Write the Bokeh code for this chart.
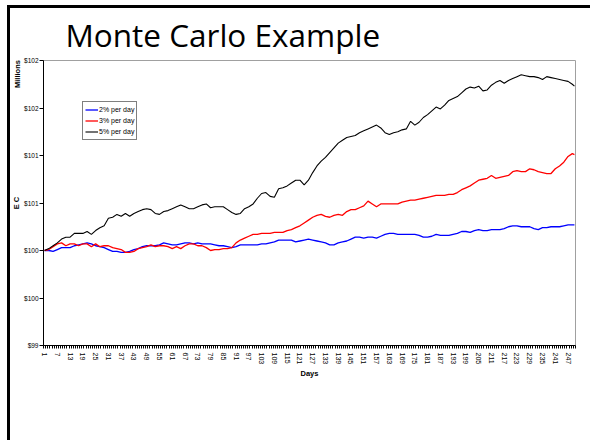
import math
from bokeh.plotting import figure
from bokeh.models import Range1d, FixedTicker, Legend, LegendItem, LinearAxis
from bokeh.embed import file_html
from bokeh.resources import INLINE

# ---- data (EC in $ millions, every other day) ----
days = list(range(1, 250, 2)) + [250]

ec_2pct = [
    100.00, 100.00, 99.99, 100.01, 100.03, 100.03, 100.03, 100.05, 100.06, 100.07,
    100.08, 100.07, 100.05, 100.04, 100.03, 100.01, 99.99, 99.99, 99.98, 99.98,
    99.99, 100.01, 100.02, 100.04, 100.05, 100.05, 100.05, 100.06, 100.08, 100.07,
    100.06, 100.06, 100.07, 100.08, 100.08, 100.07, 100.08, 100.07, 100.07, 100.07,
    100.06, 100.05, 100.05, 100.04, 100.03, 100.04, 100.06, 100.06, 100.06, 100.06,
    100.06, 100.07, 100.07, 100.08, 100.09, 100.11, 100.11, 100.11, 100.11, 100.09,
    100.10, 100.11, 100.12, 100.11, 100.10, 100.09, 100.08, 100.06, 100.06, 100.08,
    100.09, 100.10, 100.12, 100.14, 100.14, 100.13, 100.14, 100.14, 100.13, 100.15,
    100.17, 100.18, 100.18, 100.17, 100.17, 100.17, 100.17, 100.17, 100.16, 100.14,
    100.14, 100.15, 100.17, 100.16, 100.16, 100.16, 100.17, 100.18, 100.20, 100.20,
    100.19, 100.21, 100.22, 100.21, 100.21, 100.22, 100.22, 100.22, 100.23, 100.25,
    100.26, 100.26, 100.25, 100.25, 100.25, 100.23, 100.22, 100.24, 100.24, 100.25,
    100.25, 100.25, 100.26, 100.27, 100.27, 100.27,
]

ec_3pct = [
    100.00, 100.01, 100.04, 100.07, 100.08, 100.05, 100.07, 100.07, 100.05, 100.07,
    100.07, 100.04, 100.07, 100.04, 100.05, 100.05, 100.03, 100.02, 100.01, 99.98,
    99.98, 99.99, 100.02, 100.03, 100.04, 100.06, 100.04, 100.05, 100.05, 100.04,
    100.02, 100.04, 100.02, 100.05, 100.07, 100.07, 100.05, 100.05, 100.03, 100.00,
    100.01, 100.01, 100.02, 100.02, 100.03, 100.08, 100.11, 100.13, 100.15, 100.17,
    100.17, 100.18, 100.18, 100.18, 100.19, 100.19, 100.19, 100.21, 100.22, 100.24,
    100.26, 100.29, 100.32, 100.35, 100.37, 100.38, 100.36, 100.35, 100.37, 100.38,
    100.37, 100.41, 100.43, 100.43, 100.45, 100.47, 100.52, 100.49, 100.46, 100.49,
    100.49, 100.49, 100.49, 100.49, 100.51, 100.52, 100.53, 100.53, 100.54, 100.55,
    100.56, 100.57, 100.58, 100.58, 100.58, 100.59, 100.59, 100.61, 100.64, 100.66,
    100.68, 100.71, 100.74, 100.75, 100.76, 100.79, 100.76, 100.77, 100.78, 100.79,
    100.83, 100.84, 100.83, 100.83, 100.86, 100.85, 100.83, 100.82, 100.81, 100.81,
    100.86, 100.89, 100.93, 100.99, 101.02, 101.01,
]

ec_5pct = [
    100.00, 100.02, 100.05, 100.08, 100.12, 100.14, 100.14, 100.18, 100.18, 100.18,
    100.20, 100.17, 100.21, 100.24, 100.26, 100.34, 100.35, 100.38, 100.36, 100.39,
    100.36, 100.39, 100.41, 100.43, 100.44, 100.43, 100.39, 100.38, 100.41, 100.42,
    100.44, 100.46, 100.48, 100.46, 100.44, 100.44, 100.46, 100.48, 100.49, 100.45,
    100.46, 100.46, 100.46, 100.43, 100.40, 100.38, 100.39, 100.44, 100.46, 100.49,
    100.55, 100.60, 100.61, 100.57, 100.56, 100.65, 100.66, 100.68, 100.71, 100.74,
    100.74, 100.69, 100.74, 100.82, 100.89, 100.94, 100.98, 101.03, 101.08, 101.13,
    101.16, 101.19, 101.20, 101.21, 101.24, 101.26, 101.28, 101.30, 101.32, 101.29,
    101.24, 101.22, 101.24, 101.25, 101.27, 101.28, 101.36, 101.32, 101.35, 101.40,
    101.43, 101.47, 101.51, 101.49, 101.53, 101.58, 101.60, 101.62, 101.66, 101.70,
    101.72, 101.71, 101.73, 101.68, 101.69, 101.74, 101.77, 101.79, 101.76, 101.79,
    101.81, 101.83, 101.85, 101.84, 101.83, 101.83, 101.82, 101.80, 101.83, 101.82,
    101.81, 101.80, 101.79, 101.78, 101.75, 101.73,
]

series_names = ["2% per day", "3% per day", "5% per day"]
series_colors = ["#0000FF", "#FF0000", "#000000"]

y_ticks = [99.0, 99.5, 100.0, 100.5, 101.0, 101.5, 102.0]
y_tick_labels = ["$99", "$100", "$100", "$101", "$101", "$102", "$102"]
x_label_days = list(range(1, 250, 6))
x_boundaries = [d + 0.5 for d in range(0, 251)]

# ---- figure ----
p = figure(width=590, height=440, output_backend="svg", toolbar_location=None, tools="",
           x_range=Range1d(0.5, 250.5), y_range=Range1d(99.0, 102.0),
           min_border_left=43, min_border_right=15, min_border_top=60, min_border_bottom=95)
p.toolbar.logo = None
# slide frame (top and left edges) painted behind a transparent canvas border
p.styles = {"background": ("linear-gradient(#000, #000) 7px 5px / 3px 440px no-repeat, "
                           "linear-gradient(#000, #000) 7px 5px / 585px 3px no-repeat, #fff")}
p.background_fill_color = "white"
p.border_fill_alpha = 0
p.outline_line_color = "#a0a0a0"
p.outline_line_width = 1
p.xgrid.visible = False
p.ygrid.visible = False

# title
p.title.text = "Monte Carlo Example"
p.title.text_font = "Open Sans"
p.title.text_font_size = "31.5px"
p.title.text_font_style = "normal"
p.title.text_color = "black"
p.title.align = "left"
p.title.offset = 22
p.title.standoff = 9

renderers = []
for vals, col in zip([ec_2pct, ec_3pct, ec_5pct], series_colors):
    r = p.line(days, vals, line_color=col, line_width=1.3 if col != "#000000" else 1.1)
    renderers.append(r)

legend = Legend(items=[LegendItem(label=n, renderers=[r]) for n, r in zip(series_names, renderers)],
                location=(39, 205), orientation="vertical")
legend.border_line_color = "black"
legend.border_line_width = 1
legend.background_fill_color = "white"
legend.background_fill_alpha = 1
legend.padding = 2
legend.spacing = 0
legend.margin = 0
legend.glyph_width = 13
legend.glyph_height = 11
legend.label_height = 11
legend.label_standoff = 1
legend.label_text_font = "Liberation Sans"
legend.label_text_font_size = "7px"
legend.label_text_color = "black"
p.add_layout(legend, "center")

# y axis
ya = p.yaxis[0]
ya.ticker = FixedTicker(ticks=y_ticks, minor_ticks=[])
ya.major_label_overrides = {t: l for t, l in zip(y_ticks, y_tick_labels)}
ya.major_label_text_font = "Liberation Sans"
ya.major_label_text_font_size = "6.5px"
ya.major_label_text_color = "black"
ya.major_label_standoff = 1
ya.major_tick_out = 4
ya.major_tick_in = 0
ya.minor_tick_out = 0
ya.minor_tick_in = 0
ya.axis_line_color = "black"
ya.major_tick_line_color = "black"
ya.axis_label = "E C"
ya.axis_label_text_font = "Liberation Sans"
ya.axis_label_text_font_style = "bold"
ya.axis_label_text_font_size = "7.5px"
ya.axis_label_text_color = "black"
ya.axis_label_standoff = 0

# "Millions" unit label at the top of the value axis (label-only axis);
# trailing no-break spaces keep the visible word just below the frame top
units_axis = LinearAxis(ticker=FixedTicker(ticks=[], minor_ticks=[]),
                        axis_line_color=None, major_tick_line_color=None,
                        minor_tick_line_color=None, major_label_text_font_size="0px",
                        major_tick_out=0, major_tick_in=0, minor_tick_out=0, minor_tick_in=0,
                        major_label_standoff=0,
                        axis_label="Millions" + "\u00a0" * 13, axis_label_text_font="Liberation Sans",
                        axis_label_text_font_style="bold", axis_label_text_font_size="7.5px",
                        axis_label_text_color="black", axis_label_standoff=-12)
units_axis.axis_label_align = "end"
p.add_layout(units_axis, "left")

# x axis
xa = p.xaxis[0]
xa.ticker = FixedTicker(ticks=x_label_days, minor_ticks=x_boundaries)
xa.major_label_text_font = "Liberation Sans"
xa.major_label_text_font_size = "7px"
xa.major_label_text_color = "black"
xa.major_label_orientation = -math.pi / 2
xa.major_label_standoff = 4
xa.major_tick_out = 0
xa.major_tick_in = 0
xa.minor_tick_out = 3
xa.minor_tick_in = 0
xa.minor_tick_line_color = "black"
xa.axis_line_color = "black"
xa.axis_label = "Days"
xa.axis_label_text_font = "Liberation Sans"
xa.axis_label_text_font_style = "bold"
xa.axis_label_text_font_size = "7.5px"
xa.axis_label_text_color = "black"
xa.axis_label_standoff = 2

html = file_html(p, INLINE)
html = html.replace("</head>", "<style>html, body { overflow: hidden; }</style></head>", 1)
open("out.html", "w").write(html)
